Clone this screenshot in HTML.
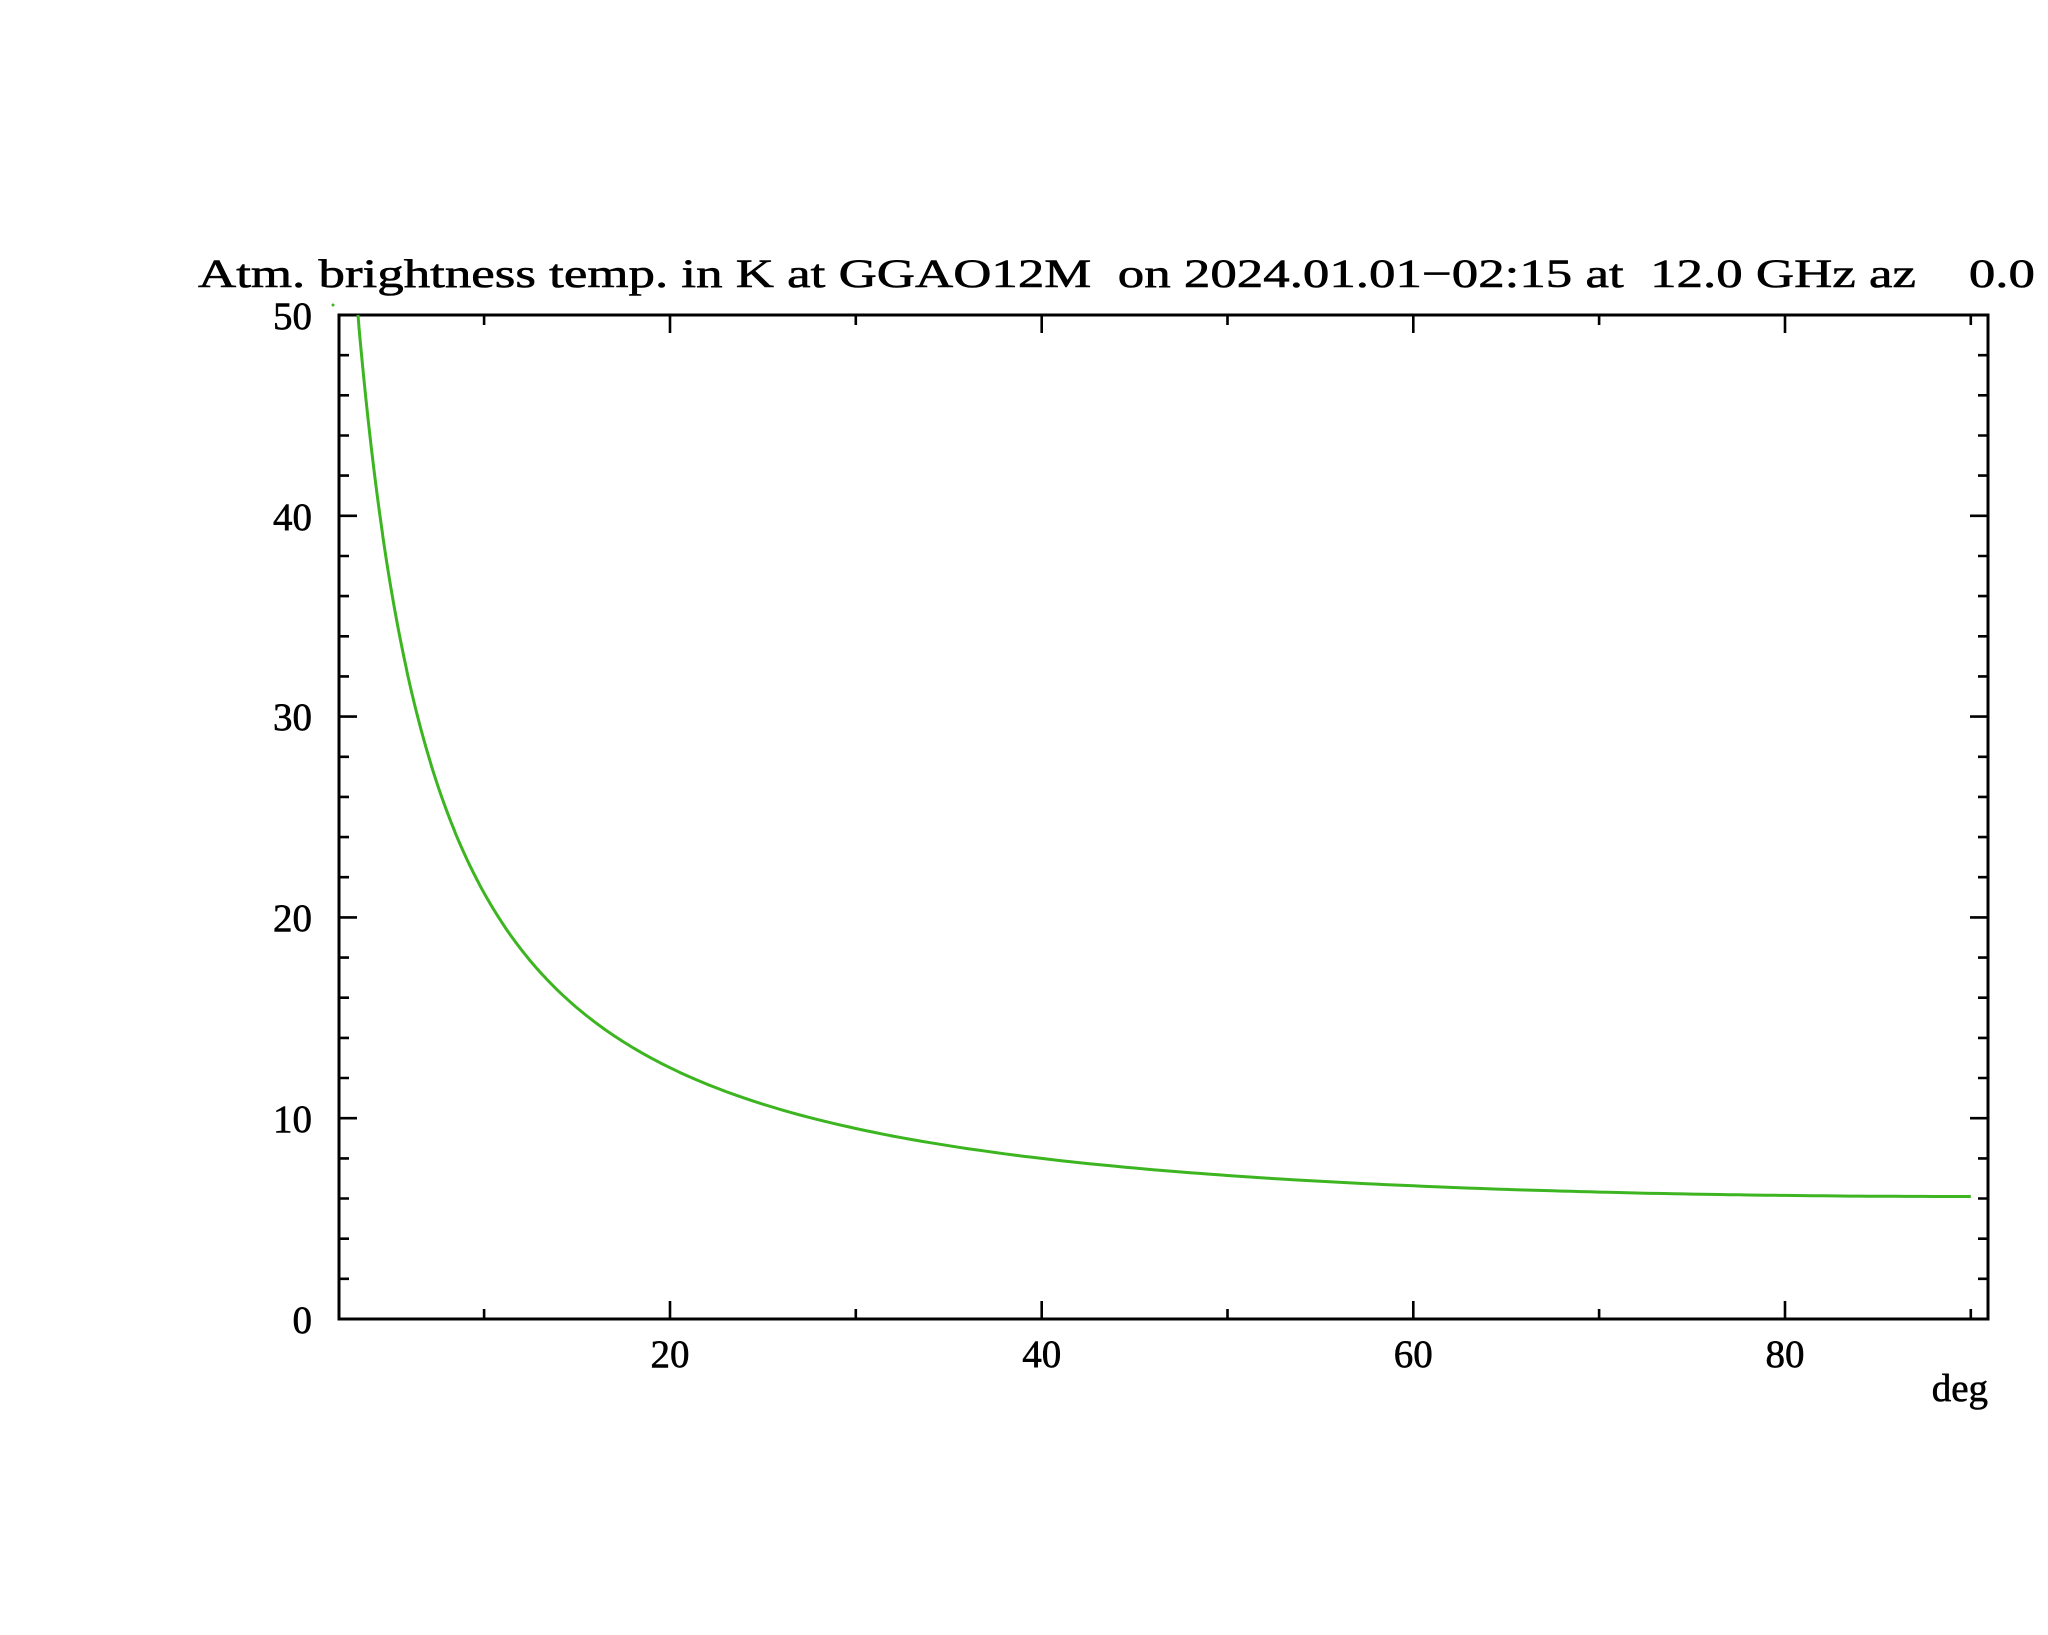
<!DOCTYPE html>
<html><head><meta charset="utf-8"><style>
html,body{margin:0;padding:0;background:#fff;}
svg{display:block;}
text{font-family:"Liberation Serif","DejaVu Serif",serif;fill:#000;stroke:#000;stroke-width:0.6;}
</style></head><body>
<svg width="2048" height="1635" viewBox="0 0 2048 1635" xmlns="http://www.w3.org/2000/svg">
<rect width="2048" height="1635" fill="#fff"/>
<text x="198" y="287" font-size="40" textLength="1837" lengthAdjust="spacingAndGlyphs" xml:space="preserve">Atm. brightness temp. in K at GGAO12M  on 2024.01.01−02:15 at  12.0 GHz az    0.0</text>
<g stroke="#000" stroke-width="2.6" fill="none">
<rect x="339" y="315" width="1649" height="1004" stroke-width="3"/>
<path d="M339 1118.2h18M339 917.4h18M339 716.6h18M339 515.8h18
M1988 1118.2h-18M1988 917.4h-18M1988 716.6h-18M1988 515.8h-18
M339 1278.8h10M339 1238.7h10M339 1198.5h10M339 1158.4h10
M339 1078h10M339 1037.9h10M339 997.7h10M339 957.6h10
M339 877.2h10M339 837.1h10M339 796.9h10M339 756.8h10
M339 676.4h10M339 636.3h10M339 596.1h10M339 556h10
M339 475.6h10M339 435.5h10M339 395.3h10M339 355.2h10
M1988 1278.8h-10M1988 1238.7h-10M1988 1198.5h-10M1988 1158.4h-10
M1988 1078h-10M1988 1037.9h-10M1988 997.7h-10M1988 957.6h-10
M1988 877.2h-10M1988 837.1h-10M1988 796.9h-10M1988 756.8h-10
M1988 676.4h-10M1988 636.3h-10M1988 596.1h-10M1988 556h-10
M1988 475.6h-10M1988 435.5h-10M1988 395.3h-10M1988 355.2h-10"/>
<path d="M670 1319v-18M1041.7 1319v-18M1413.3 1319v-18M1785 1319v-18
M670 315v18M1041.7 315v18M1413.3 315v18M1785 315v18
M484.1 1319v-10M855.8 1319v-10M1227.5 1319v-10M1599.1 1319v-10M1970.8 1319v-10
M484.1 315v10M855.8 315v10M1227.5 315v10M1599.1 315v10M1970.8 315v10"/>
</g>
<g font-size="39" text-anchor="end">
<text x="312" y="1333">0</text>
<text x="312" y="1132">10</text>
<text x="312" y="931">20</text>
<text x="312" y="730">30</text>
<text x="312" y="530">40</text>
<text x="312" y="329">50</text>
</g>
<g font-size="39" text-anchor="middle">
<text x="670" y="1367">20</text>
<text x="1041.7" y="1367">40</text>
<text x="1413.3" y="1367">60</text>
<text x="1785" y="1367">80</text>
</g>
<text x="1988" y="1401" font-size="39" text-anchor="end">deg</text>
<polyline id="curve" fill="none" stroke="#3cb521" stroke-width="3" stroke-linejoin="round"
points="358.7,316 366,385 373,458 379.8,514 389,568 398.9,615 410.4,677 421.8,728 441,795 464,851 483,892 513.7,938 559.6,994 620.9,1040 670.6,1068 731.8,1091 787.3,1110 855.8,1129.6 948.7,1146.9 1041.6,1159.4 1134.5,1168.8 1227.5,1176 1320.4,1181.7 1413.3,1186.1 1506.2,1189.6 1599.1,1192.3 1692,1194.1 1785,1195.5 1877.9,1196.3 1970.8,1196.5"/>
<circle cx="333" cy="305" r="1.5" fill="#3cb521"/>
</svg>
<script>
(function(){
  var pts=[];
  function v(d){var m=1/Math.sin(d*Math.PI/180);return 6.1+102*(Math.exp(-0.035)-Math.exp(-0.035*m));}
  function add(d){var x=298.3+d*18.583, y=1319-v(d)*20.08;pts.push(x.toFixed(1)+","+y.toFixed(1));}
  var d0=2.5; while(v(d0)>50 && d0<10) d0+=0.005;
  var n1=200;
  for(var i=0;i<=n1;i++){add(d0+(15-d0)*i/n1);}
  for(var j=1;j<=150;j++){add(15+75*j/150);}
  document.getElementById("curve").setAttribute("points",pts.join(" "));
})();
</script>
</body></html>
